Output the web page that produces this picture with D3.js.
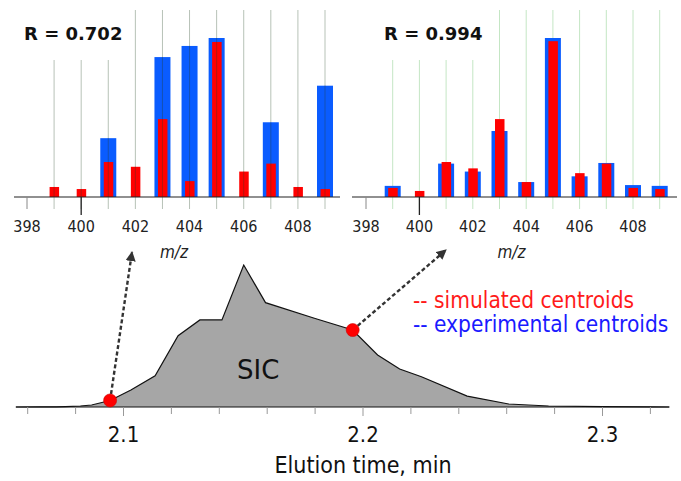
<!DOCTYPE html>
<html>
<head>
<meta charset="utf-8">
<script src="https://cdn.jsdelivr.net/npm/d3@7"></script>
<style>
  body { margin: 0; background: #fff; }
  svg { display: block; }
  text { font-family: "DejaVu Sans", Verdana, sans-serif; }
  .cond { font-family: "DejaVu Sans Condensed", "DejaVu Sans", sans-serif; font-stretch: condensed; }
</style>
</head>
<body>
<svg id="chart" width="681" height="481"></svg>
<script>
// m/z bins shared by both spectra
const mz = [399, 400, 401, 402, 403, 404, 405, 406, 407, 408, 409];
const mzTicks = [398, 400, 402, 404, 406, 408];

// left spectrum (scan at 2.094 min), R = 0.702
const leftExperimental = [0, 0, 37, 0, 88, 95, 100, 0, 47, 0, 70];
const leftSimulated = [6.3, 5, 22, 19, 49, 10, 97.5, 16, 21, 6.3, 5];

// right spectrum (scan at 2.196 min), R = 0.994
const rightExperimental = [7, 0, 21, 16, 41.5, 9.4, 100, 13, 21.4, 7.5, 7];
const rightSimulated = [5.7, 3.8, 22, 18, 49, 9.4, 98, 15, 21, 5.7, 5];

// selected ion chromatogram
const sicTime = [2.055, 2.065, 2.072, 2.0758, 2.082, 2.0867, 2.0944, 2.1031, 2.1132, 2.1228, 2.1319,
  2.1411, 2.1502, 2.1593, 2.1797, 2.1957, 2.2061, 2.2153, 2.2244, 2.2435, 2.2608, 2.2775, 2.30, 2.32, 2.328];
const sicIntensity = [0, 0.05, 0.15, 0.3, 0.7, 1.4, 4.6, 12, 22, 50.2, 61.3,
  61.3, 100, 73.5, 62.5, 54.2, 36.6, 26.8, 21.3, 7.7, 2.1, 0.7, 0.2, 0.05, 0];
const scanTimes = [2.0944, 2.1957];
const scanIntensity = [4.6, 54.2];
const timeTicks = [2.1, 2.2, 2.3];

const svg = d3.select("#chart");

// arrow head
svg.append("defs").append("marker")
  .attr("id", "arrow")
  .attr("viewBox", "0 0 10 10")
  .attr("refX", 9).attr("refY", 5)
  .attr("markerWidth", 4.2).attr("markerHeight", 4.2)
  .attr("markerUnits", "strokeWidth")
  .attr("orient", "auto")
  .append("path")
  .attr("d", "M0,0L10,5L0,10Z")
  .attr("fill", "#333");

const y = d3.scaleLinear().domain([0, 100]).range([197, 38]);

function drawSpectrum(opts) {
  const g = svg.append("g");
  const x = opts.x;

  // thin vertical guides
  const guides = g.append("g");
  guides.selectAll("line")
    .data(mz)
    .join("line")
    .attr("x1", d => x(d)).attr("x2", d => x(d))
    .attr("y1", d => d < opts.shortBelow ? 60 : 10)
    .attr("y2", 209)
    .attr("stroke", opts.guideColor)
    .attr("stroke-width", 1);

  g.append("g").selectAll("rect")
    .data(mz.map((m, i) => ({ m, v: opts.exp[i] })).filter(d => d.v > 0))
    .join("rect")
    .attr("x", d => x(d.m) - 8)
    .attr("width", 16)
    .attr("y", d => y(d.v))
    .attr("height", d => y(0) - y(d.v))
    .attr("fill", "#0a5cff");

  g.append("g").selectAll("rect")
    .data(mz.map((m, i) => ({ m, v: opts.sim[i] })))
    .join("rect")
    .attr("x", d => x(d.m) - 4.5)
    .attr("width", 9.5)
    .attr("y", d => y(d.v))
    .attr("height", d => y(0) - y(d.v))
    .attr("fill", "#ff0000");

  if (opts.guidesOnTop) {
    g.append("g").selectAll("line")
      .data(mz)
      .join("line")
      .attr("x1", d => x(d)).attr("x2", d => x(d))
      .attr("y1", d => y(Math.max(opts.exp[mz.indexOf(d)], opts.sim[mz.indexOf(d)])))
      .attr("y2", y(0))
      .attr("stroke", "rgba(40,60,40,0.35)")
      .attr("stroke-width", 1);
  }

  // baseline
  g.append("line")
    .attr("x1", opts.left).attr("x2", opts.right)
    .attr("y1", y(0)).attr("y2", y(0))
    .attr("stroke", "#222").attr("stroke-width", 1.2);

  // ticks under the axis
  g.append("line")
    .attr("x1", x(398)).attr("x2", x(398))
    .attr("y1", y(0)).attr("y2", 209)
    .attr("stroke", "#888");
  g.append("line")
    .attr("x1", x(400)).attr("x2", x(400))
    .attr("y1", y(0)).attr("y2", 215)
    .attr("stroke", "#222").attr("stroke-width", 1.3);

  g.append("g").selectAll("text")
    .data(mzTicks)
    .join("text")
    .attr("class", "cond")
    .attr("x", d => x(d))
    .attr("y", 232)
    .attr("text-anchor", "middle")
    .attr("font-size", 16)
    .attr("fill", "#222")
    .text(d => d);

  g.append("text")
    .attr("class", "cond")
    .attr("x", (opts.left + opts.right) / 2 - 3)
    .attr("y", 258)
    .attr("text-anchor", "middle")
    .attr("font-size", 17)
    .attr("font-style", "italic")
    .attr("fill", "#222")
    .text("m/z");

  g.append("text")
    .attr("x", opts.labelX)
    .attr("y", 40)
    .attr("font-size", 18)
    .attr("font-weight", "bold")
    .attr("fill", "#111")
    .text(opts.label);
}

const xLeft = d3.scaleLinear().domain([398, 409]).range([27, 325]);
const xRight = d3.scaleLinear().domain([398, 408]).range([366, 633]);

drawSpectrum({ x: xLeft, exp: leftExperimental, sim: leftSimulated, left: 14, right: 340,
  shortBelow: 402, guideColor: "#b7c2b7", guidesOnTop: true, label: "R = 0.702", labelX: 24 });
drawSpectrum({ x: xRight, exp: rightExperimental, sim: rightSimulated, left: 352, right: 677,
  shortBelow: 403, guideColor: "#c4e6c4", guidesOnTop: false, label: "R = 0.994", labelX: 384 });

// chromatogram
const xt = d3.scaleLinear().domain([2.1, 2.3]).range([123.5, 602.5]);
const yi = d3.scaleLinear().domain([0, 100]).range([407, 265]);

const sic = sicTime.map((t, i) => [t, sicIntensity[i]]);
svg.append("path")
  .datum(sic)
  .attr("d", d3.area().x(d => xt(d[0])).y0(yi(0)).y1(d => yi(d[1])))
  .attr("fill", "#a6a6a6");
svg.append("path")
  .datum(sic)
  .attr("d", d3.line().x(d => xt(d[0])).y(d => yi(d[1])))
  .attr("fill", "none")
  .attr("stroke", "#111")
  .attr("stroke-width", 1.2);

const axis = svg.append("g");
axis.append("line")
  .attr("x1", 16).attr("x2", 669)
  .attr("y1", yi(0)).attr("y2", yi(0))
  .attr("stroke", "#111").attr("stroke-width", 1.2);
const minor = d3.range(2.06, 2.3301, 0.02);
axis.selectAll("line.tick")
  .data(minor)
  .join("line")
  .attr("class", "tick")
  .attr("x1", d => xt(d)).attr("x2", d => xt(d))
  .attr("y1", yi(0))
  .attr("y2", d => timeTicks.some(t => Math.abs(t - d) < 1e-6) ? yi(0) + 9 : yi(0) + 7)
  .attr("stroke", "#999");
axis.selectAll("text")
  .data(timeTicks)
  .join("text")
  .attr("class", "cond")
  .attr("x", d => xt(d))
  .attr("y", 442)
  .attr("text-anchor", "middle")
  .attr("font-size", 22)
  .attr("fill", "#111")
  .text(d => d.toFixed(1));
axis.append("text")
  .attr("class", "cond")
  .attr("x", 363)
  .attr("y", 473)
  .attr("text-anchor", "middle")
  .attr("font-size", 23)
  .attr("fill", "#111")
  .text("Elution time, min");

svg.append("text")
  .attr("x", 237)
  .attr("y", 379)
  .attr("font-size", 26)
  .attr("fill", "#111")
  .text("SIC");

// arrows from the scans up to their spectra
const arrowEnds = [[132, 252], [446, 250]];
svg.append("g").selectAll("line")
  .data(scanTimes)
  .join("line")
  .attr("x1", d => xt(d))
  .attr("y1", (d, i) => yi(scanIntensity[i]))
  .attr("x2", (d, i) => arrowEnds[i][0])
  .attr("y2", (d, i) => arrowEnds[i][1])
  .attr("stroke", "#333")
  .attr("stroke-width", 2.4)
  .attr("stroke-dasharray", "4,2.5")
  .attr("marker-end", "url(#arrow)");

svg.append("g").selectAll("circle")
  .data(scanTimes)
  .join("circle")
  .attr("cx", d => xt(d))
  .attr("cy", (d, i) => yi(scanIntensity[i]))
  .attr("r", 6.5)
  .attr("fill", "#ff0000")
  .attr("stroke", "#c00")
  .attr("stroke-width", 0.6);

// legend
const legend = svg.append("g").attr("class", "cond").attr("font-size", 22.5);
legend.append("text").attr("class", "cond").attr("x", 413).attr("y", 308)
  .attr("fill", "#ff1a1a").text("-- simulated centroids");
legend.append("text").attr("class", "cond").attr("x", 413).attr("y", 332)
  .attr("fill", "#1a1aff").text("-- experimental centroids");
</script>
</body>
</html>
